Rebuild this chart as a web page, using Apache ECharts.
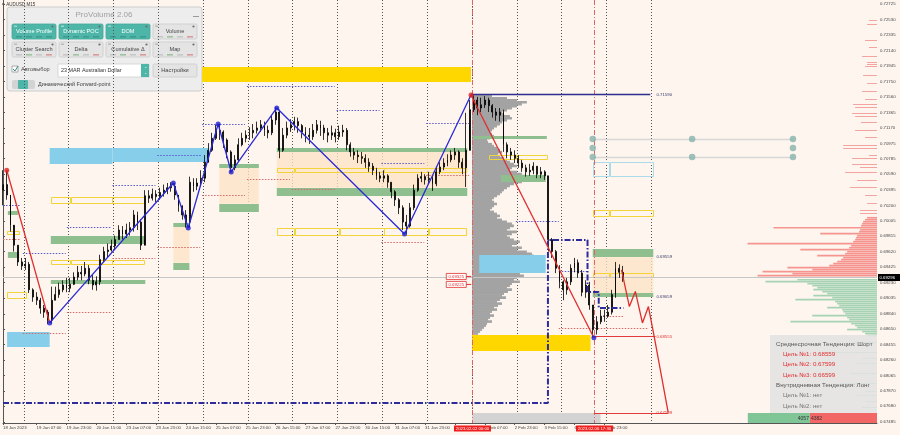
<!DOCTYPE html>
<html><head><meta charset="utf-8">
<script src="https://cdn.jsdelivr.net/npm/echarts@6/dist/echarts.min.js"></script>
<style>html,body{margin:0;padding:0;background:#fdf5ee}#c{width:900px;height:435px}</style>
</head><body><div id="c"></div><script>
// ---------------- DATA ----------------
const tradingDays = ['18 Jan','19 Jan','20 Jan','23 Jan','24 Jan','25 Jan','26 Jan','27 Jan','30 Jan','31 Jan','1 Feb','2 Feb','3 Feb','6 Feb','7 Feb','8 Feb','9 Feb','10 Feb','13 Feb','14 Feb','15 Feb'];
const xTickLabels = ['18 Jan 2023','19 Jan 07:00','19 Jan 23:00','20 Jan 15:00','23 Jan 07:00','23 Jan 23:00','24 Jan 15:00','25 Jan 07:00','25 Jan 23:00','26 Jan 15:00','27 Jan 07:00','27 Jan 23:00','30 Jan 15:00','31 Jan 07:00','31 Jan 23:00','1 Feb 15:00','2 Feb 07:00','2 Feb 23:00','3 Feb 15:00','6 Feb 07:00','6 Feb 23:00'];
const yTicks = [0.72725,0.72530,0.72335,0.72140,0.71945,0.71750,0.71560,0.71365,0.71170,0.70975,0.70785,0.70590,0.70395,0.70200,0.70005,0.69815,0.69620,0.69425,0.69230,0.69035,0.68840,0.68650,0.68455,0.68260,0.68065,0.67870,0.67680,0.67485];
const yMin = 0.6747, yMax = 0.72775;
const firstOpen = 0.7039;
const closes = [0.7046,0.7033,0.6995,0.6970,0.6949,0.6944,0.6946,0.6914,0.6905,0.6901,0.6891,0.6886,0.6876,0.6901,0.6908,0.6914,0.6920,0.6916,0.6921,0.6930,
0.6936,0.6934,0.6941,0.6926,0.6920,0.6924,0.6952,0.6962,0.6964,0.6969,0.6977,0.6989,0.6984,0.6989,0.6992,0.7008,0.6999,0.6970,0.7032,0.7029,
0.7034,0.7031,0.7036,0.7039,0.7042,0.7044,0.7033,0.7019,0.7008,0.6999,0.7049,0.7044,0.7048,0.7054,0.7074,0.7089,0.7104,0.7114,0.7112,0.7102,
0.7087,0.7067,0.7077,0.7096,0.7104,0.7108,0.7111,0.7114,0.7117,0.7121,0.7114,0.7111,0.7127,0.7137,0.7089,0.7108,0.7117,0.7121,0.7125,0.7120,
0.7112,0.7108,0.7106,0.7114,0.7121,0.7117,0.7111,0.7108,0.7111,0.7106,0.7112,0.7114,0.7096,0.7087,0.7083,0.7081,0.7079,0.7074,0.7069,0.7064,
0.7057,0.7054,0.7057,0.7049,0.7037,0.7027,0.7017,0.6999,0.6994,0.7017,0.7039,0.7054,0.7056,0.7052,0.7054,0.7047,0.7062,0.7068,0.7073,0.7077,
0.7083,0.7087,0.7074,0.7067,0.7089,0.7140,0.7152,0.7142,0.7146,0.7152,0.7145,0.7137,0.7133,0.7137,0.7096,0.7087,0.7083,0.7079,0.7073,0.7067,
0.7062,0.7064,0.7069,0.7059,0.7062,0.7057,0.6977,0.6962,0.6941,0.6924,0.6914,0.6924,0.6941,0.6948,0.6935,0.6911,0.6920,0.6895,0.6864,0.6874,
0.6881,0.6881,0.6886,0.6908,0.6941,0.6936,0.69296];
const highs = [0.7064,0.7064,0.7033,0.6993,0.6970,0.6954,0.6954,0.6949,0.6916,0.6911,0.6904,0.6895,0.6889,0.6918,0.6918,0.6923,0.6926,0.6929,0.6929,0.6936,
0.6944,0.6944,0.6949,0.6945,0.6933,0.6931,0.6958,0.6968,0.6972,0.6977,0.6982,0.6995,0.6994,0.6997,0.6999,0.7014,0.7012,0.7002,0.7039,0.7039,
0.7041,0.7039,0.7042,0.7046,0.7048,0.7049,0.7048,0.7033,0.7020,0.7014,0.7056,0.7054,0.7054,0.7064,0.7083,0.7098,0.7111,0.7121,0.7122,0.7114,
0.7104,0.7089,0.7083,0.7104,0.7111,0.7114,0.7118,0.7122,0.7125,0.7127,0.7125,0.7120,0.7132,0.7143,0.7140,0.7117,0.7125,0.7128,0.7131,0.7130,
0.7122,0.7118,0.7117,0.7122,0.7127,0.7126,0.7121,0.7117,0.7120,0.7116,0.7120,0.7121,0.7117,0.7099,0.7092,0.7089,0.7087,0.7084,0.7079,0.7073,
0.7067,0.7062,0.7064,0.7059,0.7049,0.7039,0.7029,0.7020,0.7008,0.7023,0.7046,0.7059,0.7062,0.7059,0.7062,0.7057,0.7069,0.7074,0.7079,0.7084,
0.7089,0.7092,0.7089,0.7079,0.7136,0.7152,0.7158,0.7156,0.7155,0.7157,0.7155,0.7147,0.7142,0.7142,0.7140,0.7099,0.7092,0.7089,0.7083,0.7077,
0.7071,0.7072,0.7074,0.7069,0.7068,0.7064,0.7057,0.6979,0.6964,0.6945,0.6926,0.6929,0.6946,0.6954,0.6952,0.6939,0.6926,0.6924,0.6895,0.6881,
0.6889,0.6889,0.6895,0.6914,0.6949,0.6946,0.6944];
const lows = [0.7020,0.7027,0.6987,0.6962,0.6944,0.6939,0.6939,0.6910,0.6899,0.6895,0.6884,0.6879,0.6871,0.6872,0.6901,0.6904,0.6911,0.6911,0.6911,0.6920,
0.6926,0.6926,0.6931,0.6921,0.6914,0.6913,0.6920,0.6949,0.6955,0.6962,0.6964,0.6977,0.6977,0.6979,0.6982,0.6987,0.6989,0.6964,0.6977,0.7023,
0.7026,0.7024,0.7027,0.7031,0.7034,0.7037,0.7027,0.7012,0.7002,0.6992,0.6992,0.7037,0.7039,0.7044,0.7049,0.7077,0.7087,0.7102,0.7102,0.7092,
0.7079,0.7061,0.7064,0.7074,0.7094,0.7099,0.7102,0.7104,0.7110,0.7112,0.7107,0.7104,0.7108,0.7121,0.7079,0.7087,0.7104,0.7112,0.7114,0.7111,
0.7104,0.7099,0.7097,0.7102,0.7110,0.7107,0.7102,0.7099,0.7102,0.7099,0.7102,0.7106,0.7089,0.7081,0.7077,0.7073,0.7072,0.7067,0.7062,0.7058,
0.7052,0.7049,0.7049,0.7042,0.7029,0.7019,0.7009,0.6989,0.6984,0.6992,0.7014,0.7037,0.7049,0.7046,0.7047,0.7038,0.7044,0.7059,0.7064,0.7069,
0.7074,0.7077,0.7067,0.7059,0.7043,0.7121,0.7137,0.7133,0.7137,0.7142,0.7137,0.7130,0.7126,0.7125,0.7087,0.7079,0.7077,0.7073,0.7067,0.7062,
0.7056,0.7057,0.7059,0.7054,0.7054,0.7052,0.6962,0.6954,0.6935,0.6916,0.6901,0.6908,0.6920,0.6936,0.6929,0.6906,0.6904,0.6889,0.6854,0.6858,
0.6871,0.6874,0.6879,0.6883,0.6904,0.6929,0.6924];
const lastPrice = 0.69296;

// zones: [startBar, endBar, lowPrice, highPrice]
const peachZones = [[45.6,49.9,0.6948,0.6993],[57.9,68.5,0.7022,0.7067],[73.3,124.3,0.7042,0.7087],[157.9,174.1,0.6910,0.6955]];
const goldZones = [[53.3,125.3,0.71747,0.71935],[125.6,157.3,0.68373,0.68574]];
const skyZones = [[12.5,29.3,0.70719,0.70919],[29.3,55.2,0.70743,0.70919],[1.1,12.5,0.68424,0.68612],[127.5,145.3,0.69351,0.69577]];
const grayZones = [[125.6,160,0.6747,0.67596]];
const greenZones = [[1.3,4.0,0.70079,0.70129],[1.3,4.3,0.6954,0.69615],[12.8,38.1,0.69715,0.69816],[12.8,38.1,0.69213,0.69263],
 [45.6,49.9,0.69928,0.69978],[45.6,49.9,0.69389,0.69477],[57.9,68.5,0.70668,0.70718],[57.9,68.5,0.70116,0.70217],
 [73.3,124.3,0.70869,0.70919],[73.3,124.3,0.70317,0.70417],[125.9,145.6,0.71032,0.7107],[133.3,145.3,0.70493,0.7058],
 [157.9,174.1,0.69552,0.69652],[157.9,174.1,0.69051,0.69101]];
const yellowBoxes = [[1.1,4.5,0.69828,0.69878],[1.1,6.4,0.69026,0.69113],
 [12.8,18.1,0.70217,0.70305],[18.1,29.3,0.70217,0.70305],[29.3,38.1,0.70217,0.70305],
 [12.8,18.1,0.69452,0.69515],[18.1,29.3,0.69452,0.69515],[29.3,38.1,0.69452,0.69515],
 [73.3,78.1,0.70606,0.70668],[78.1,102.1,0.70606,0.70668],[102.1,124.3,0.70606,0.70668],
 [73.3,78.1,0.69816,0.69916],[78.1,90.1,0.69816,0.69916],[90.1,102.1,0.69816,0.69916],[102.1,114.1,0.69816,0.69916],[114.1,124.3,0.69816,0.69916],
 [130.1,137.3,0.70769,0.70831],[137.3,145.9,0.70769,0.70831],
 [157.9,162.4,0.70054,0.70141],[162.4,174.1,0.70054,0.70141],
 [157.9,162.4,0.69289,0.69351],[162.4,174.1,0.69289,0.69351]];
const lightBlueBoxes = [[157.9,162.4,0.70556,0.70744],[162.4,174.1,0.70556,0.70744]];

// horizontal levels: [startBar, endBar, price]
const blueDotted = [[0,4.8,0.70204],[5.3,16.8,0.69602],[17.1,28.8,0.69928],[29.3,40.8,0.70455],[41.3,53.3,0.70831],[53.3,64.8,0.7122],
 [65.3,88.8,0.71697],[89.3,100.8,0.71396],[101.3,112.8,0.70731],[113.3,124.8,0.71233],[137.3,148.8,0.70004],[148.8,156.5,0.69377]];
const redDotted = [[0,4.8,0.69778],[5.3,16.8,0.686],[17.1,28.8,0.68862],[29.3,40.8,0.6954],[41.3,52.8,0.69677],[53.3,64.8,0.7033],
 [65.3,76.8,0.7053],[77.3,88.8,0.70405],[101.3,112.8,0.6974],[113.3,124.8,0.7058],[148.8,172.8,0.68662],[160.8,166.1,0.68812]];
const navyLevels = [[125.3,173.3,0.7159]];
const redLevels = [[158.2,174.7,0.68555],[158.2,178.1,0.67599]];
const tealLevels = [[157.9,211.5,0.71032],[157.9,211.5,0.70806]];
const tealDots = [[157.9,0.71032],[184.5,0.71032],[211.5,0.71032],[157.9,0.70919],[211.5,0.70919],[157.9,0.70806],[184.5,0.70806],[211.5,0.70806]];
const levelLabels = [[174.7,0.7159],[174.7,0.69559],[174.7,0.69059]];
const levelLabelTexts = ['0.71590','0.69559','0.69059'];
const redLabels = [[174.7,0.68555],[174.7,0.67599]];
const redLabelTexts = ['0.68555','0.67599'];
const poolLabels = [[124.3,0.69308],[124.3,0.69208]];
const poolLabelTexts = ['0.69325','0.69225'];

// zigzags: [bar, price]
const blueZigzag = [[12.5,0.68725],[45.6,0.7048],[49.6,0.69916],[57.6,0.7122],[61.1,0.70618],[73.3,0.71421],[107.5,0.69841],[125.3,0.71584]];
const redZigzag1 = [[1,0.7064],[12.5,0.68725]];
const redZigzag2 = [[125.3,0.71584],[158.2,0.6854]];
const redProjection = [[165.6,0.69389],[167.7,0.6893],[169.3,0.6912],[171.2,0.68725],[172.8,0.6893],[174.4,0.6854],[178.1,0.676]];
const blueStep = [[0,0.67721],[145.9,0.67721],[145.9,0.69765],[156.5,0.69765],[156.5,0.69113],[159.5,0.69113],[159.5,0.68912],[166.1,0.68912]];
const redPivots = [[1,0.7064],[125.3,0.71584]];
const bluePivots = [[12.5,0.68725],[45.6,0.7048],[49.6,0.69916],[57.6,0.7122],[61.1,0.70618],[73.3,0.71421],[107.5,0.69841],[158.2,0.6854]];

// session volume profile (gray): levels from top, step 0.00025
const grayProfileTop = 0.71571, profileStep = 0.00025, grayProfileStart = 125.6;
const grayVols = [20,35,45,55,50, 45,40,35,30,32, 38,40,35,30,28, 25,22,20,18,20, 22,18,15,16,20, 22,25,28,30,26,
 28,32,35,38,42, 45,40,38,45,50, 55,52,48,50,42, 38,35,32,30,28, 25,22,20,22,25, 22,20,18,22,25,
 28,25,30,35,40, 42,38,35,45,40, 35,38,42,48,45, 40,50,45,55,60, 62,65,58,70,64, 60,55,62,50,48,
 52,45,42,48,40, 38,35,40,36,32, 30,34,28,25,30, 26,22,25,20,18, 22,18,16,20,15, 14,12,10,8,6];
// right-side profile
const redDenseTop = 0.70042;
const redDenseVols = [10,12,14,15,16,104,17,18,57,20,21,22,24,130,26,28,77,30,32,60,34,36,40,44,48,90,65,115,85,120];
const greenDenseTop = 0.69265;
const greenDenseVols = [80,112,70,65,60,64,55,50,64,45,82,42,40,38,50,35,34,32,65,30,28,87,26,22,20,30,15,12,10];
const redSparse = [[0.72524,8],[0.72474,10],[0.72273,12],[0.72186,8],[0.72073,15],[0.71998,10],[0.71972,10],[0.71947,12],[0.71835,14],[0.71734,10],
 [0.71634,15],[0.71534,12],[0.71471,24],[0.71433,22],[0.71358,25],[0.7132,22],[0.71246,16],[0.71145,22],[0.71057,12],[0.70957,34],[0.70919,34],
 [0.70831,8],[0.70794,25],[0.70718,25],[0.70681,17],[0.70618,32],[0.70518,20],[0.7043,27],[0.7033,12],[0.70229,10],[0.70141,17],[0.70104,17]];
const greenSparse = [[0.68486,20],[0.68361,46],[0.68286,15],[0.68223,22],[0.68098,27],[0.67972,37],[0.67872,12],[0.67822,22],[0.67747,11],[0.67671,15]];
const buyVolume = 4057, sellVolume = 4382;
const crossLabels = ['2023.02.02 00:00','2023.02.06 17:30'];
const crossTimes = [['2 Feb',0],['6 Feb',17.5]];

// ---------------- BUILD ----------------
const categories = [];
tradingDays.forEach((d, k) => {
  for (let h = (k === 0 ? 13 : 1); h <= 23; h += 2) categories.push(d + ' ' + String(h).padStart(2,'0') + ':00');
});
categories.length = 235;
const labelMap = {};
xTickLabels.forEach((t, k) => { const idx = k === 0 ? 0 : categories.indexOf(t); if (idx >= 0) labelMap[idx] = t; });
const isLabel = i => labelMap[i] !== undefined;
const barOf = (day, hour) => categories.indexOf(day + ' 01:00') - 0.5 + hour / 2;
const daySeps = [];
tradingDays.slice(1).forEach(d => { const i = categories.indexOf(d + ' 01:00'); if (i > 0 && i < 180) daySeps.push([i - 0.5]); });
const crossData = crossTimes.map(t => [barOf(t[0], t[1])]);

const candleData = closes.map((c, i) => [i === 0 ? firstOpen : closes[i-1], c, lows[i], highs[i]]);
const grayProfile = grayVols.map((v, k) => [grayProfileTop - k * profileStep, v]);
const redDense = redDenseVols.map((v, k) => [v, redDenseTop - k * profileStep]);
const greenDense = greenDenseVols.map((v, k) => [v, greenDenseTop - k * profileStep]);

const FONT = '"Liberation Sans", Arial, sans-serif';
function rects(data, fill, z, stroke) {
  return {type:'custom', xAxisIndex:1, yAxisIndex:0, z, silent:true, data,
    renderItem:(p, api) => {
      const a = api.coord([api.value(0), api.value(3)]), b = api.coord([api.value(1), api.value(2)]);
      if (stroke) return {type:'rect', shape:{x:Math.round(a[0])+0.5, y:Math.round(a[1])+0.5, width:Math.round(b[0]-a[0])-1, height:Math.max(1,Math.round(b[1]-a[1])-1)}, style:{fill:'none', stroke, lineWidth:1}};
      return {type:'rect', shape:{x:a[0], y:a[1], width:b[0]-a[0], height:b[1]-a[1]}, style:{fill}};
    }};
}
function hlines(data, stroke, dash, z, width) {
  return {type:'custom', xAxisIndex:1, yAxisIndex:0, z, silent:true, data,
    renderItem:(p, api) => {
      const a = api.coord([api.value(0), api.value(2)]), b = api.coord([api.value(1), api.value(2)]);
      const y = Math.round(a[1]) + 0.5;
      return {type:'line', shape:{x1:a[0], y1:y, x2:b[0], y2:y}, style:{stroke, lineWidth:width||1, lineDash:dash}};
    }};
}
function labels(data, texts, color, z, boxed) {
  return {type:'custom', xAxisIndex:1, yAxisIndex:0, z, silent:true, data, clip:false,
    renderItem:(p, api) => {
      const a = api.coord([api.value(0), api.value(1)]);
      if (boxed) return {type:'group', children:[
        {type:'rect', shape:{x:a[0]-21, y:a[1]-3, width:20, height:6}, style:{fill:'#fff', stroke:color, lineWidth:0.8}},
        {type:'line', shape:{x1:a[0]-1, y1:a[1], x2:a[0]+4, y2:a[1]}, style:{stroke:color, lineWidth:1}},
        {type:'text', x:a[0]-11, y:a[1]+0.3, style:{text:texts[p.dataIndex], fill:color, font:'4.3px '+FONT, align:'center', verticalAlign:'middle'}}]};
      return {type:'text', x:a[0]+1, y:a[1]+0.5, style:{text:texts[p.dataIndex], fill:color, font:'4.3px '+FONT, align:'left', verticalAlign:'middle'}};
    }};
}
function lineS(data, color, width, z, dash) {
  return {type:'line', xAxisIndex:1, yAxisIndex:0, data, z, silent:true, showSymbol:false, symbol:'none',
    lineStyle:{color, width, type: dash || 'solid'}};
}

const series = [
  // day separators
  {type:'custom', xAxisIndex:1, yAxisIndex:0, z:1, silent:true, data:daySeps,
   renderItem:(p, api) => { const a = api.coord([api.value(0), yMax]), b = api.coord([api.value(0), yMin]); const x = Math.round(a[0])+0.5;
     return {type:'line', shape:{x1:x, y1:a[1], x2:x, y2:b[1]}, style:{stroke:'#555', lineWidth:1, lineDash:[1,2]}}; }},
  rects(peachZones, 'rgba(253,226,196,0.75)', 1),
  // gray session profile
  {type:'custom', xAxisIndex:1, yAxisIndex:0, z:2, silent:true, data:grayProfile,
   renderItem:(p, api) => { const a = api.coord([grayProfileStart, api.value(0) + profileStep/2]); const h = Math.abs(api.size([0, profileStep])[1]);
     const w = api.size([api.value(1) * 0.2665, 0])[0];
     return {type:'rect', shape:{x:a[0], y:a[1], width:w, height:h+0.6}, style:{fill:'#a3a3a3'}}; }},
  rects(goldZones, '#ffd700', 2),
  rects(skyZones, '#87ceeb', 2),
  rects(grayZones, '#d3d3d3', 2),
  rects(greenZones, '#8fbf8f', 3),
  rects(yellowBoxes, null, 3, '#f2d43a'),
  rects(lightBlueBoxes, null, 3, '#a9dbe8'),
  hlines(blueDotted, '#5a5ad0', [1.5,1.5], 3),
  hlines(redDotted, '#d46a6a', [1.5,1.5], 3),
  hlines(tealLevels, '#d8d8d8', null, 3, 1.5),
  // right-side profile
  {type:'custom', xAxisIndex:2, yAxisIndex:0, z:3, silent:true, data:redDense,
   renderItem:(p, api) => { const a = api.coord([0, api.value(1) + profileStep/2]), b = api.coord([api.value(0), api.value(1)]); const h = Math.abs(api.size([0, profileStep])[1]);
     return {type:'rect', shape:{x:b[0], y:a[1], width:a[0]-b[0], height:h*0.85}, style:{fill:'#f6958f'}}; }},
  {type:'custom', xAxisIndex:2, yAxisIndex:0, z:3, silent:true, data:greenDense,
   renderItem:(p, api) => { const a = api.coord([0, api.value(1) + profileStep/2]), b = api.coord([api.value(0), api.value(1)]); const h = Math.abs(api.size([0, profileStep])[1]);
     return {type:'rect', shape:{x:b[0], y:a[1], width:a[0]-b[0], height:h*0.85}, style:{fill:'#a7d3b5'}}; }},
  {type:'custom', xAxisIndex:2, yAxisIndex:0, z:3, silent:true, data:redSparse.map(d => [d[1], d[0]]),
   renderItem:(p, api) => { const a = api.coord([0, api.value(1)]), b = api.coord([api.value(0), api.value(1)]); const y = Math.round(a[1])+0.5;
     return {type:'line', shape:{x1:b[0], y1:y, x2:a[0], y2:y}, style:{stroke:'#f3a3a0', lineWidth:1}}; }},
  {type:'custom', xAxisIndex:2, yAxisIndex:0, z:3, silent:true, data:greenSparse.map(d => [d[1], d[0]]),
   renderItem:(p, api) => { const a = api.coord([0, api.value(1)]), b = api.coord([api.value(0), api.value(1)]); const y = Math.round(a[1])+0.5;
     return {type:'line', shape:{x1:b[0], y1:y, x2:a[0], y2:y}, style:{stroke:'#9fd0ae', lineWidth:1}}; }},
  // current price line + axis box
  {type:'custom', xAxisIndex:1, yAxisIndex:0, z:4, silent:true, clip:false, data:[[0, lastPrice]],
   renderItem:(p, api) => { const a = api.coord([0, api.value(1)]), b = api.coord([234, api.value(1)]); const y = Math.round(a[1])+0.5;
     return {type:'group', children:[
       {type:'line', shape:{x1:a[0], y1:y, x2:b[0], y2:y}, style:{stroke:'#c6c6c6', lineWidth:1}},
       {type:'rect', shape:{x:b[0]+1, y:y-3.5, width:22, height:7}, style:{fill:'#000'}},
       {type:'text', x:b[0]+2.5, y:y+0.3, style:{text:api.value(1).toFixed(5), fill:'#fff', font:'4.3px '+FONT, verticalAlign:'middle'}}]}; }},
  // crosshair verticals + time boxes
  {type:'custom', xAxisIndex:1, yAxisIndex:0, z:4, silent:true, clip:false, data:crossData,
   renderItem:(p, api) => { const a = api.coord([api.value(0), yMax]), b = api.coord([api.value(0), yMin]); const x = Math.round(a[0])+0.5;
     return {type:'group', children:[
       {type:'line', shape:{x1:x, y1:a[1], x2:x, y2:b[1]}, style:{stroke:'#e06464', lineWidth:1, lineDash:[5,2,1,2]}},
       {type:'rect', shape:{x:x-18.5, y:b[1]+2.5, width:37, height:6}, style:{fill:'#f01d1d'}},
       {type:'text', x:x, y:b[1]+5.7, style:{text:crossLabels[p.dataIndex], fill:'#fff', font:'4.3px '+FONT, align:'center', verticalAlign:'middle'}}]}; }},
  // candles
  {type:'candlestick', xAxisIndex:0, yAxisIndex:0, z:5, data:candleData, barWidth:1.4, silent:true,
   itemStyle:{color:'#000', color0:'#000', borderColor:'#000', borderColor0:'#000', borderWidth:0.8}},
  lineS(blueStep, '#2c2c9c', 2, 6, [6,2,1.5,2]),
  hlines(navyLevels, '#2e2e8e', null, 6, 1.5),
  hlines(redLevels, '#e33b3b', null, 6, 1.2),
  lineS(blueZigzag, '#2a2ad6', 1.3, 6),
  lineS(redZigzag1, '#e02d2d', 1.3, 6),
  lineS(redZigzag2, '#e02d2d', 1.3, 6),
  lineS(redProjection, '#e02d2d', 1.3, 6),
  {type:'scatter', xAxisIndex:1, yAxisIndex:0, z:7, silent:true, data:bluePivots, symbolSize:5, itemStyle:{color:'#1f1fd0'}},
  {type:'scatter', xAxisIndex:1, yAxisIndex:0, z:7, silent:true, data:redPivots, symbolSize:5, itemStyle:{color:'#e02020'}},
  {type:'scatter', xAxisIndex:1, yAxisIndex:0, z:7, silent:true, data:tealDots, symbolSize:6.5, itemStyle:{color:'#86b3ab'}},
  labels(levelLabels, levelLabelTexts, '#3a3a6a', 8),
  labels(redLabels, redLabelTexts, '#e03030', 8),
  labels(poolLabels, poolLabelTexts, '#e03030', 8, true),
  // totals bar
  {type:'custom', xAxisIndex:2, yAxisIndex:0, z:9, silent:true, clip:false, data:[[sellVolume, buyVolume]],
   renderItem:(p, api) => { const k = 0.01538; const base = api.coord([0, yMin]);
     const r = api.coord([api.value(0)*k, yMin]), g = api.coord([(api.value(0)+api.value(1))*k, yMin]);
     const y = base[1] - 10;
     return {type:'group', children:[
       {type:'rect', shape:{x:r[0], y, width:base[0]-r[0], height:10}, style:{fill:'#f26666'}},
       {type:'rect', shape:{x:g[0], y, width:r[0]-g[0], height:10}, style:{fill:'#80c596'}},
       {type:'text', x:r[0]-1, y:y+5.5, style:{text:String(api.value(1)), fill:'#333', font:'5px '+FONT, align:'right', verticalAlign:'middle'}},
       {type:'text', x:r[0]+1, y:y+5.5, style:{text:String(api.value(0)), fill:'#333', font:'5px '+FONT, align:'left', verticalAlign:'middle'}}]}; }}
];

// ---------------- GRAPHIC (panel + info box) ----------------
const panelButtons = [['Volume Profile',1],['Dynamic POC',1],['DOM',1],['Volume',0],['Cluster Search',0],['Delta',0],['Cumulative Δ',0],['Map',0]];
const TEAL = '#4db6a9';
const g = [];
g.push({type:'text', left:2, top:2, style:{text:'▾ AUDUSD,M15', fill:'#333', font:'4.5px '+FONT}});
g.push({type:'rect', shape:{x:7,y:7,width:195,height:84,r:3}, style:{fill:'rgba(236,236,236,0.96)', stroke:'#cdcdcd', lineWidth:1}});
g.push({type:'text', x:104, y:15, style:{text:'ProVolume 2.06', fill:'#a0a0a0', font:'8px '+FONT, align:'center', verticalAlign:'middle'}});
g.push({type:'rect', shape:{x:193,y:16,width:6,height:1}, style:{fill:'#9a9a9a'}});
panelButtons.forEach((b, k) => {
  const c = k % 4, r = Math.floor(k / 4), x = 12 + c * 47, y = 24 + r * 18;
  g.push({type:'rect', shape:{x, y, width:44, height:15, r:1.5}, style:{fill: b[1] ? TEAL : '#e4e4e4', stroke: b[1] ? '#45a89b' : '#cacaca', lineWidth:0.8}});
  g.push({type:'text', x:x+22, y:y+7.5, style:{text:b[0], fill: b[1] ? '#fff' : '#444', font:'5.6px '+FONT, align:'center', verticalAlign:'middle'}});
  g.push({type:'circle', shape:{cx:x+40.5, cy:y+2.5, r:1.1}, style:{fill:'#6a6a6a'}});
  g.push({type:'rect', shape:{x:x+2, y:y+1.5, width:3, height:1.5}, style:{fill: b[1] ? '#9ad6cf' : '#bbb'}});
  for (let j = 0; j < 4; j++) g.push({type:'rect', shape:{x:x+4+j*10, y:y+12.5, width:6, height:0.8}, style:{fill: b[1] ? '#2f8076' : (j===1?'#5aa05a':(j===3?'#d05050':'#aaa'))}});
});
g.push({type:'rect', shape:{x:12,y:66,width:6,height:6}, style:{fill:'#fff', stroke:'#999', lineWidth:0.8}});
g.push({type:'polyline', shape:{points:[[13,69],[15,71],[18,66]]}, style:{stroke:'#3a8f86', lineWidth:1, fill:'none'}});
g.push({type:'text', x:21, y:69.5, style:{text:'Автовыбор', fill:'#444', font:'5.6px '+FONT, verticalAlign:'middle'}});
g.push({type:'rect', shape:{x:58,y:64,width:91,height:13}, style:{fill:'#fff', stroke:'#cfcfcf', lineWidth:0.8}});
g.push({type:'text', x:61, y:70.5, style:{text:'23 MAR Australian Dollar', fill:'#333', font:'5.4px '+FONT, verticalAlign:'middle'}});
g.push({type:'rect', shape:{x:141,y:64,width:8,height:13}, style:{fill:TEAL}});
g.push({type:'text', x:145, y:70.5, style:{text:'⌃\n⌄', fill:'#fff', font:'4px '+FONT, align:'center', verticalAlign:'middle'}});
g.push({type:'rect', shape:{x:153,y:64,width:44,height:13, r:1.5}, style:{fill:'#e4e4e4', stroke:'#cacaca', lineWidth:0.8}});
g.push({type:'text', x:175, y:70.5, style:{text:'Настройки', fill:'#444', font:'5.6px '+FONT, align:'center', verticalAlign:'middle'}});
g.push({type:'rect', shape:{x:12,y:80,width:23,height:9,r:2}, style:{fill:'#d3d3d3'}});
g.push({type:'rect', shape:{x:18,y:80,width:10,height:9,r:1}, style:{fill:TEAL}});
g.push({type:'text', x:38, y:84.5, style:{text:'Динамический Forward-point', fill:'#444', font:'5.5px '+FONT, verticalAlign:'middle'}});
// info box
const infoLines = [['Среднесрочная Тенденция: Шорт','#555',776],['Цель №1: 0.68559','#e03030',783],['Цель №2: 0.67599','#e03030',783],['Цель №3: 0.66599','#e03030',783],
  ['Внутридневная Тенденция: Лонг','#555',776],['Цель №1: нет','#777',783],['Цель №2: нет','#777',783]];
g.push({type:'rect', shape:{x:770,y:335,width:107,height:78}, style:{fill:'rgba(226,226,226,0.88)'}, z:50});
infoLines.forEach((l, k) => g.push({type:'text', x:l[2], y:344 + k*10.3, z:51, style:{text:l[0], fill:l[1], font:'6.2px '+FONT, verticalAlign:'middle'}}));

const chart = echarts.init(document.getElementById('c'));
chart.setOption({
  animation:false,
  backgroundColor:'#fdf5ee',
  grid:{left:-1, top:0, width:878, height:423},
  xAxis:[
    {type:'category', data:categories, boundaryGap:false,
     axisLine:{lineStyle:{color:'#555'}},
     axisTick:{show:true, interval:(i) => isLabel(i), length:2, lineStyle:{color:'#555'}},
     axisLabel:{interval:(i) => isLabel(i), formatter:(v, i) => labelMap[i] || '', align:'left', fontSize:4.3, fontFamily:FONT, color:'#444', margin:3, hideOverlap:false},
     splitLine:{show:false}},
    {type:'value', min:0, max:234, show:false},
    {type:'value', min:0, max:878, inverse:true, show:false}
  ],
  yAxis:{type:'value', position:'right', min:yMin, max:yMax,
    axisLine:{show:true, lineStyle:{color:'#555'}},
    axisTick:{show:true, customValues:yTicks, length:2, lineStyle:{color:'#555'}},
    axisLabel:{customValues:yTicks, formatter:(v) => Number(v).toFixed(5), fontSize:4.3, fontFamily:FONT, color:'#444', margin:3},
    splitLine:{show:false}},
  series,
  graphic:{elements:g}
});
</script></body></html>
